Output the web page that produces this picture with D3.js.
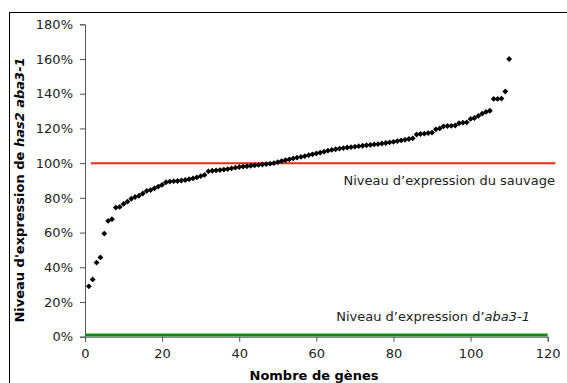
<!DOCTYPE html>
<html><head><meta charset="utf-8">
<script src="https://cdn.jsdelivr.net/npm/d3@7"></script>
<style>body{margin:0;background:#fff}svg{display:block}</style>
</head><body>
<svg id="c" width="567" height="383"></svg>
<script>
const geneValues = [29,33,42.7,45.7,59.4,66.7,67.7,74.4,74.8,76.5,
77.8,79.5,80.5,81.2,82.5,84,84.5,85.5,86.5,87.5,
89,89.4,89.6,89.7,90,90.3,90.7,91.2,91.8,92.5,
93.2,95.3,95.6,95.8,96,96.3,96.6,97,97.4,97.8,
98,98.2,98.5,98.8,99,99.2,99.4,99.7,100,100.6,
101.2,101.7,102.2,102.7,103.2,103.6,104,104.6,105.1,105.6,
106.1,106.6,107.2,107.6,108,108.4,108.7,109,109.2,109.5,
109.8,110,110.3,110.5,110.8,111,111.3,111.6,112,112.3,
112.7,113.1,113.5,113.9,114.3,116.5,116.8,117,117.3,117.6,
119.5,120,121.2,121.4,121.5,121.7,123,123.3,123.5,125.5,
126,127.2,128.5,129.5,130.2,137,137,137.2,141.3,160];
const wildX = [1.5, 122], wildY = [100, 100];
const abaX = [0, 120], abaY = [1, 1];
const yTicks = [0,20,40,60,80,100,120,140,160,180];
const xTicks = [0,20,40,60,80,100,120];
const labelWild = "Niveau d\u2019expression du sauvage";
const labelAba = ["Niveau d\u2019expression d\u2019", "aba3-1"];
const xTitle = "Nombre de g\u00e8nes";
const yTitle = ["Niveau d'expression de ", "has2 aba3-1"];

const svg = d3.select("#c");
const font = "DejaVu Sans, Verdana, sans-serif";
const x = d3.scaleLinear().domain([0,120]).range([85,547.7]);
const y = d3.scaleLinear().domain([0,180]).range([336.7,24.3]);

svg.append("rect").attr("x",9.5).attr("y",12.5).attr("width",700).attr("height",500)
  .attr("fill","none").attr("stroke","#000").attr("stroke-width",1);

const yAx = svg.append("g").attr("transform","translate(85,0)")
  .call(d3.axisLeft(y).tickValues(yTicks).tickFormat(d=>d+"%").tickSize(5).tickPadding(7));
const xAx = svg.append("g").attr("transform","translate(0,336.7)")
  .call(d3.axisBottom(x).tickValues(xTicks).tickSize(5).tickPadding(7));
[yAx,xAx].forEach(g=>{
  g.select(".domain").attr("stroke","#555");
  g.selectAll(".tick line").attr("stroke","#555");
  g.selectAll("text").attr("font-family",font).attr("font-size",13).attr("fill","#222");
});

const line = d3.line().x(d=>x(d[0])).y(d=>y(d[1]));
svg.append("path").datum(wildX.map((v,i)=>[v,wildY[i]])).attr("d",line)
  .attr("stroke","#f02a10").attr("stroke-width",2).attr("fill","none");
svg.append("path").datum(abaX.map((v,i)=>[v,abaY[i]])).attr("d",line)
  .attr("stroke","#108a10").attr("stroke-width",3).attr("fill","none");

const sym = d3.symbol().type(d3.symbolSquare).size(17);
svg.append("g").selectAll("path").data(geneValues).join("path")
  .attr("d",sym)
  .attr("transform",(d,i)=>`translate(${x(i+1)},${y(d)}) rotate(45)`)
  .attr("fill","#000");

svg.append("text").attr("x",555).attr("y",184.5).attr("text-anchor","end")
  .attr("font-family",font).attr("font-size",13).attr("fill","#222").text(labelWild);
const ta = svg.append("text").attr("x",530).attr("y",321).attr("text-anchor","end")
  .attr("font-family",font).attr("font-size",13).attr("fill","#222");
ta.append("tspan").text(labelAba[0]);
ta.append("tspan").attr("font-style","italic").text(labelAba[1]);

svg.append("text").attr("x",314).attr("y",380).attr("text-anchor","middle")
  .attr("font-family",font).attr("font-size",13).attr("font-weight","bold").text(xTitle);
const yt = svg.append("text").attr("transform","translate(24,190) rotate(-90)").attr("text-anchor","middle")
  .attr("font-family",font).attr("font-size",13).attr("font-weight","bold");
yt.append("tspan").text(yTitle[0]);
yt.append("tspan").attr("font-style","italic").text(yTitle[1]);
</script>
</body></html>
